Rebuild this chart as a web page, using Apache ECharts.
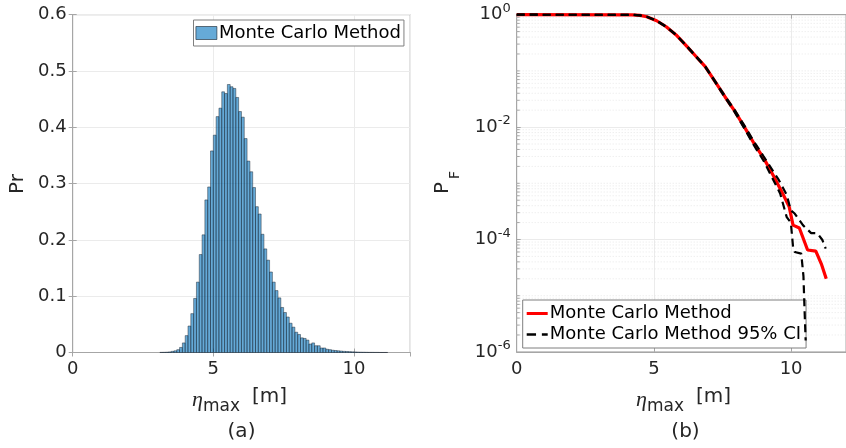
<!DOCTYPE html>
<html><head><meta charset="utf-8">
<script src="https://cdn.jsdelivr.net/npm/echarts@6/dist/echarts.min.js"></script>
<style>html,body{margin:0;padding:0;background:#fff}#c{width:846px;height:448px}</style>
</head><body><div id="c"></div>
<script>
// ---- Data: histogram (a) ----
const binLeft = [3.1,3.2,3.3,3.4,3.5,3.6,3.7,3.8,3.9,4.0,4.1,4.2,4.3,4.4,4.5,4.6,4.7,4.8,4.9,5.0,5.1,5.2,5.3,5.4,5.5,5.6,5.7,5.8,5.9,6.0,6.1,6.2,6.3,6.4,6.5,6.6,6.7,6.8,6.9,7.0,7.1,7.2,7.3,7.4,7.5,7.6,7.7,7.8,7.9,8.0,8.1,8.2,8.3,8.4,8.5,8.6,8.7,8.8,8.9,9.0,9.1,9.2,9.3,9.4,9.5,9.6,9.7,9.8,9.9,10.0,10.1,10.2,10.3,10.4,10.5,10.6,10.7,10.8,10.9,11.0,11.1];
const binWidth = 0.1;
const pr = [0.0003,0.0004,0.0006,0.001,0.002,0.003,0.005,0.009,0.017,0.030,0.047,0.069,0.096,0.125,0.174,0.209,0.271,0.294,0.358,0.386,0.419,0.434,0.463,0.460,0.476,0.472,0.469,0.453,0.428,0.418,0.380,0.340,0.321,0.293,0.259,0.246,0.210,0.184,0.164,0.143,0.125,0.110,0.097,0.080,0.071,0.063,0.052,0.045,0.036,0.032,0.026,0.025,0.022,0.015,0.017,0.012,0.012,0.008,0.008,0.0057,0.005,0.004,0.0035,0.003,0.0025,0.002,0.0018,0.0015,0.0012,0.001,0.0008,0.0006,0.0005,0.0004,0.0003,0.0003,0.0002,0.0002,0.0001,0.0001,0.0001];

// ---- Data: exceedance probability (b) ----
const mcX = [0,4.2,4.5,4.74,5.10,5.45,5.81,6.16,6.52,6.87,7.23,7.59,7.94,8.30,8.65,9.01,9.37,9.72,9.93,10.07,10.3,10.6,10.9,11.1,11.28];
const mcP = [1,0.995,0.973,0.92,0.78,0.61,0.437,0.288,0.184,0.119,0.0646,0.0347,0.0195,0.0100,0.0051,0.00275,0.00132,6.2e-4,3.8e-4,1.8e-4,1.6e-4,6.5e-5,6.2e-5,3.7e-5,2.0e-5];
const ciUpX = [0,4.2,4.5,4.74,5.10,5.45,5.81,6.16,6.52,6.87,7.23,7.59,7.94,8.30,8.65,9.0,9.55,9.84,9.99,10.13,10.43,10.73,10.96,11.14,11.26];
const ciUpP = [1,0.995,0.974,0.922,0.783,0.614,0.441,0.291,0.187,0.121,0.0660,0.0357,0.0203,0.0106,0.0055,0.0030,0.00115,6.2e-4,3.3e-4,2.9e-4,1.8e-4,1.3e-4,1.29e-4,9.8e-5,6.9e-5];
const ciLoX = [0,4.2,4.5,4.74,5.10,5.45,5.81,6.16,6.52,6.87,7.23,7.59,7.94,8.30,8.65,9.0,9.6,9.84,9.99,10.07,10.13,10.37,10.45,10.49,10.53];
const ciLoP = [1,0.995,0.972,0.918,0.777,0.606,0.433,0.285,0.181,0.117,0.0632,0.0337,0.0187,0.0094,0.0047,0.0025,6.6e-4,2.5e-4,2.0e-4,7.4e-5,6.0e-5,5.6e-5,2.2e-5,5.5e-6,1.6e-6];

const xTicksInterval = 5;
const yTicksA = 0.1;

const FONT = 'DejaVu Sans';
const TXT = '#262626';
const AX = '#a6a6a6';
const GRID = '#ebebeb';

const pairs = (xs, ys) => xs.map((x, i) => [x, ys[i]]);
const histData = binLeft.map((l, i) => [l, l + binWidth, pr[i]]);

// minor log grid positions (axis decoration, 2..9 x 10^k and odd decades)
const minorLog = [];
for (let k = -6; k < 0; k++) {
  for (let m = 1; m <= 9; m++) {
    if (m === 1 && k % 2 === 0) continue;
    minorLog.push([0, m * Math.pow(10, k)]);
  }
}

const chart = echarts.init(document.getElementById('c'), null, { renderer: 'canvas' });

const gridA = { left: 72.7, top: 14.7, width: 337.5, height: 337.8 };
const gridB = { left: 516.7, top: 14.7, width: 337.5, height: 337.2 };

const tickStyle = { show: true, inside: true, length: 4, lineStyle: { color: AX } };
const xMain = (g) => ({
  gridIndex: g, type: 'value', min: 0, max: 12, interval: xTicksInterval,
  axisLine: { show: true, lineStyle: { color: AX, width: 1 } },
  axisTick: tickStyle,
  axisLabel: { color: TXT, fontFamily: FONT, fontSize: 18, margin: 8, showMaxLabel: false },
  splitLine: { show: true, lineStyle: { color: GRID, width: 1 } }
});
const xTop = (g) => ({
  gridIndex: g, type: 'value', min: 0, max: 12, interval: xTicksInterval, position: 'top',
  axisLine: { show: true, lineStyle: { color: AX } }, axisTick: tickStyle,
  axisLabel: { show: false }, splitLine: { show: false }
});

chart.setOption({
  animation: false,
  backgroundColor: '#fff',
  grid: [
    Object.assign({ show: true, borderColor: AX, borderWidth: 1, backgroundColor: 'transparent' }, gridA),
    Object.assign({ show: true, borderColor: AX, borderWidth: 1, backgroundColor: 'transparent' }, gridB)
  ],
  xAxis: [xMain(0), xMain(1), xTop(0), xTop(1)],
  yAxis: [
    {
      gridIndex: 0, type: 'value', min: 0, max: 0.6, interval: yTicksA,
      axisLine: { show: true, lineStyle: { color: AX } },
      axisTick: tickStyle,
      axisLabel: { color: TXT, fontFamily: FONT, fontSize: 18, margin: 6,
        formatter: v => (Math.round(v * 10) / 10).toString() },
      splitLine: { show: true, lineStyle: { color: GRID } }
    },
    {
      gridIndex: 1, type: 'log', logBase: 10, min: 1e-6, max: 1, interval: 2,
      axisLine: { show: true, lineStyle: { color: AX } },
      axisTick: tickStyle,
      axisLabel: {
        color: TXT, fontFamily: FONT, fontSize: 18, margin: 6,
        formatter: v => '10{sup|' + Math.round(Math.log10(v)) + '}',
        rich: { sup: { fontSize: 13, fontFamily: FONT, color: TXT, padding: [0, 0, 12, 0] } }
      },
      splitLine: { show: true, lineStyle: { color: GRID } }
    },
    {
      gridIndex: 0, type: 'value', min: 0, max: 0.6, interval: yTicksA, position: 'right',
      axisLine: { show: true, lineStyle: { color: AX } }, axisTick: tickStyle,
      axisLabel: { show: false }, splitLine: { show: false }
    }
  ],
  legend: [
    {
      data: [{ name: 'Monte Carlo Method', icon: 'rect' }],
      left: 193.5, top: 20, orient: 'vertical',
      itemWidth: 21, itemHeight: 13, itemGap: 0,
      padding: [4, 3, 4, 2],
      borderColor: '#7f7f7f', borderWidth: 1, backgroundColor: '#fff',
      itemStyle: { borderColor: 'rgba(20,30,40,0.75)', borderWidth: 0.8 },
      textStyle: { color: '#000', fontFamily: FONT, fontSize: 18, padding: [0, 0, 0, -3] },
      selectedMode: false
    },
    {
      data: [
        { name: 'Monte Carlo Method ', icon: 'rect' },
        { name: 'Monte Carlo Method 95% CI', icon: 'path://M0,0h8v2h-8z M13,0h5v2h-5z' }
      ],
      left: 522.7, top: 300, orient: 'vertical',
      itemWidth: 21, itemHeight: 3, itemGap: 0,
      padding: [3, 5, 3, 4],
      borderColor: '#7f7f7f', borderWidth: 1, backgroundColor: '#fff',
      textStyle: { color: '#000', fontFamily: FONT, fontSize: 18, padding: [0, 0, 0, -3], lineHeight: 21 },
      selectedMode: false
    }
  ],
  series: [
    {
      name: 'Monte Carlo Method', type: 'custom', xAxisIndex: 0, yAxisIndex: 0,
      data: histData,
      itemStyle: { color: 'rgba(0,114,189,0.6)' },
      renderItem: function (params, api) {
        const p0 = api.coord([api.value(0), 0]);
        const p1 = api.coord([api.value(1), api.value(2)]);
        return {
          type: 'rect',
          shape: { x: p0[0], y: p1[1], width: p1[0] - p0[0], height: p0[1] - p1[1] },
          style: { fill: 'rgba(0,114,189,0.6)', stroke: 'rgba(20,30,40,0.75)', lineWidth: 0.6 }
        };
      }
    },
    {
      name: 'minorgrid', type: 'custom', xAxisIndex: 1, yAxisIndex: 1, silent: true, z: 1,
      data: minorLog,
      renderItem: function (params, api) {
        const a = api.coord([0, api.value(1)]);
        const b = api.coord([12, api.value(1)]);
        return {
          type: 'group',
          children: [
            { type: 'line', shape: { x1: a[0], y1: a[1], x2: b[0], y2: b[1] },
              style: { stroke: '#dedede', lineWidth: 0.7, lineDash: [1, 2] } },
            { type: 'line', shape: { x1: a[0], y1: a[1], x2: a[0] + 3, y2: a[1] },
              style: { stroke: AX, lineWidth: 1 } }
          ]
        };
      }
    },
    {
      name: 'Monte Carlo Method ', type: 'line', xAxisIndex: 1, yAxisIndex: 1,
      data: pairs(mcX, mcP), showSymbol: false, symbol: 'none', clip: false, z: 3,
      lineStyle: { color: '#ff0000', width: 3.2 }, itemStyle: { color: '#ff0000' }
    },
    {
      name: 'Monte Carlo Method 95% CI', type: 'line', xAxisIndex: 1, yAxisIndex: 1,
      data: pairs(ciUpX, ciUpP), symbol: 'none', clip: false, z: 4,
      lineStyle: { color: '#000', width: 2.2, type: [8, 5] }, itemStyle: { color: '#000' }
    },
    {
      name: 'Monte Carlo Method 95% CI', type: 'line', xAxisIndex: 1, yAxisIndex: 1,
      data: pairs(ciLoX, ciLoP), symbol: 'none', clip: false, z: 4,
      lineStyle: { color: '#000', width: 2.2, type: [8, 5] }, itemStyle: { color: '#000' }
    }
  ],
  graphic: [
    // panel (a) labels
    { type: 'text', x: 192, y: 389, style: { text: 'η', font: 'italic 22px "Liberation Serif"', fill: TXT } },
    { type: 'text', x: 203, y: 398, style: { text: 'max', font: '17px "DejaVu Sans"', fill: TXT } },
    { type: 'text', x: 252, y: 387, style: { text: '[m]', font: '20px "DejaVu Sans"', fill: TXT } },
    { type: 'text', x: 241.5, y: 422, style: { text: '(a)', font: '20px "DejaVu Sans"', fill: TXT, align: 'center' } },
    { type: 'text', x: 18, y: 184, rotation: Math.PI / 2, style: { text: 'Pr', font: '20px "DejaVu Sans"', fill: TXT, align: 'center', verticalAlign: 'middle' } },
    // panel (b) labels
    { type: 'text', x: 636, y: 389, style: { text: 'η', font: 'italic 22px "Liberation Serif"', fill: TXT } },
    { type: 'text', x: 647, y: 398, style: { text: 'max', font: '17px "DejaVu Sans"', fill: TXT } },
    { type: 'text', x: 696, y: 387, style: { text: '[m]', font: '20px "DejaVu Sans"', fill: TXT } },
    { type: 'text', x: 685.5, y: 422, style: { text: '(b)', font: '20px "DejaVu Sans"', fill: TXT, align: 'center' } },
    { type: 'text', x: 443, y: 194, rotation: Math.PI / 2, style: { text: 'P', font: '20px "DejaVu Sans"', fill: TXT, verticalAlign: 'middle' } },
    { type: 'text', x: 455, y: 179, rotation: Math.PI / 2, style: { text: 'F', font: '14px "DejaVu Sans"', fill: TXT, verticalAlign: 'middle' } }
  ]
});
</script>
</body></html>
